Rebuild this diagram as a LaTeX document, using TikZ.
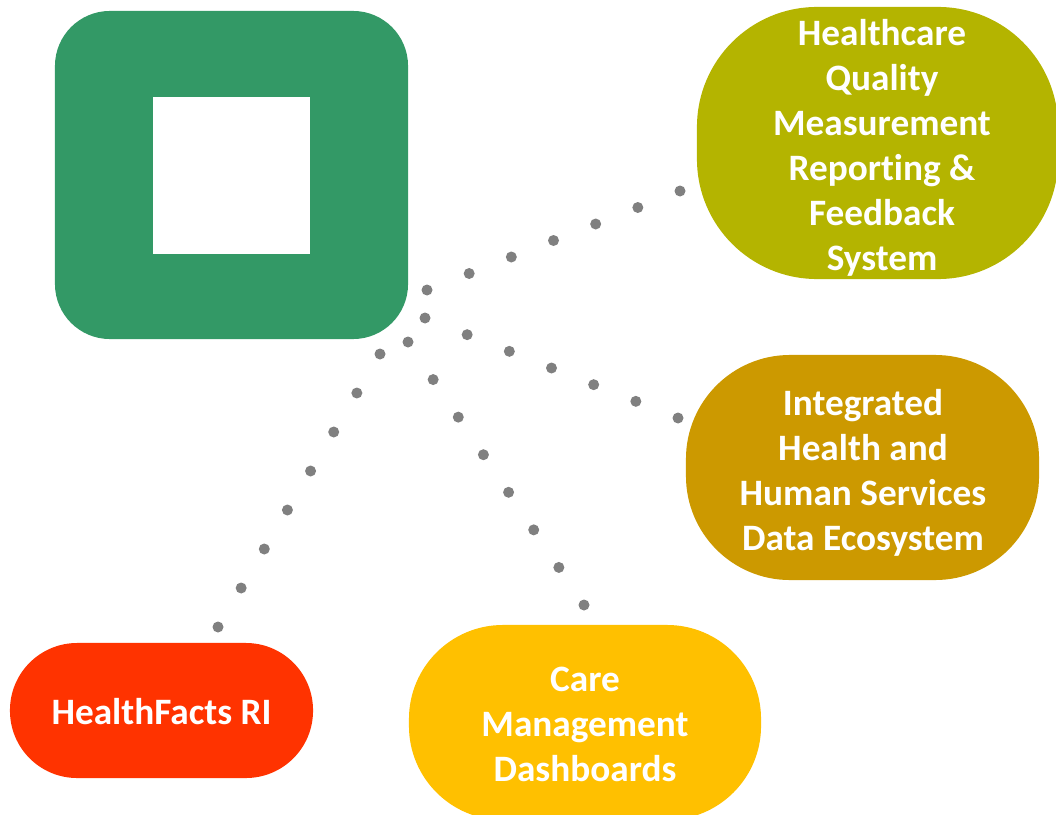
\documentclass[tikz,border=0pt]{standalone}
\usepackage{fontspec}
\setmainfont{Carlito}[Ligatures={NoCommon,NoRare}]
\usepackage{xcolor}
\usepackage{tikz}
\usetikzlibrary{positioning,calc}
\definecolor{LogoGreen}{RGB}{51,153,102}
\definecolor{QualOlive}{RGB}{180,180,0}
\definecolor{EcoGold}{RGB}{204,153,0}
\definecolor{CareAmber}{RGB}{255,192,0}
\definecolor{FactsRed}{RGB}{255,51,0}
\definecolor{DotGray}{RGB}{128,128,128}

\begin{document}
\begin{tikzpicture}[x=0.025cm,y=-0.025cm]
        % Khung ảnh
        \useasboundingbox (0,0) rectangle (1056,814);

        % Định nghĩa style cho các khối
        \tikzstyle{blob} = [
            rectangle,
            draw=none,
            inner sep=0pt
        ]
        \tikzstyle{tag} = [
            text=white,
            align=center,
            inner sep=0pt,
            font=\fontsize{26.5}{32}\selectfont\bfseries
        ]
        \tikzstyle{dot} = [fill=DotGray]

        % Biểu tượng màu xanh
        \node[blob, fill=LogoGreen, minimum width=8.825cm, minimum height=8.2cm,
              rounded corners=1.375cm] at (231.5,175) (logo) {};
        \node[fill=white, minimum size=3.925cm, inner sep=0pt] at (231.5,175.5) (hole) {};

        % Các khối hệ thống
        \node[blob, fill=QualOlive, minimum width=9.025cm, minimum height=6.8cm,
              rounded corners=3cm] at (877.5,143) (qual) {};
        \node[blob, fill=EcoGold, minimum width=8.825cm, minimum height=5.625cm,
              rounded corners=2.6cm] at (862.5,467.5) (eco) {};
        \node[blob, fill=CareAmber, minimum width=8.8cm, minimum height=4.875cm,
              rounded corners=2.35cm] at (585,722.5) (care) {};
        \node[blob, fill=FactsRed, minimum width=7.575cm, minimum height=3.375cm,
              rounded corners=1.68cm] at (161.5,710.5) (facts) {};

        % Chữ trong các khối
        \node[tag] at ($(qual)+(4.5,5)$) (qualtxt)
              {Healthcare\\Quality\\Measurement\\Reporting \&\\Feedback\\System};
        \node[tag] at ($(eco)+(0.5,5)$) (ecotxt)
              {Integrated\\Health and\\Human Services\\Data Ecosystem};
        \node[tag] at ($(care)+(0,2)$) (caretxt)
              {Care\\Management\\Dashboards};
        \node[tag] at ($(facts)+(0,1)$) (factstxt) {HealthFacts RI};

        % Đầu và cuối các đường chấm
        \coordinate (q0) at (427,290);  \coordinate (q1) at (680,191);
        \coordinate (e0) at (425,318);  \coordinate (e1) at (678,418);
        \coordinate (c0) at (408,342);  \coordinate (c1) at (584,605);
        \coordinate (f0) at (380,354);  \coordinate (f1) at (218,627);

        % Các đường chấm: đầu/cuối/số khoảng
        \foreach \s/\e/\n in {q0/q1/6, e0/e1/6, c0/c1/7, f0/f1/7} {
            \foreach \i in {0,...,\n} {
                \fill[dot] ($(\s)!\i/\n!(\e)$) circle (5.5);
            }
        }
    \end{tikzpicture}
\end{document}
